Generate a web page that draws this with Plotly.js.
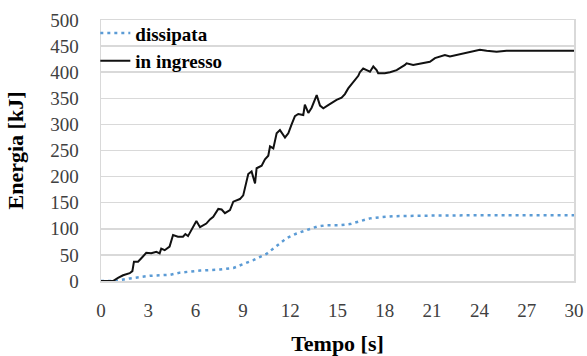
<!DOCTYPE html>
<html>
<head>
<meta charset="utf-8">
<script src="https://cdn.plot.ly/plotly-3.0.1.min.js"></script>
<style>
  html, body { margin: 0; padding: 0; background: #fff; }
  #chart { width: 587px; height: 356px; }
  #chart text { font-family: 'Liberation Serif' !important; }
</style>
</head>
<body>
<div id="chart"></div>
<script>
// Energia in ingresso: tempo [s] e valori [kJ]
const tIngresso = [0, 0.76, 1.08, 1.4, 1.82, 1.99, 2.09, 2.35, 2.66, 2.87, 3.19, 3.51, 3.72, 3.82, 4.04, 4.35,
  4.57, 4.88, 5.2, 5.35, 5.52, 5.77, 6.05, 6.28, 6.68, 6.91, 7.12, 7.44, 7.65, 7.86, 8.18, 8.39,
  8.81, 9.02, 9.24, 9.34, 9.55, 9.77, 9.87, 10.19, 10.4, 10.61, 10.72, 10.93, 11.14, 11.35, 11.67, 11.88,
  12.09, 12.3, 12.51, 12.83, 12.93, 13.15, 13.36, 13.68, 13.89, 14.1, 14.41, 14.73, 14.94, 15.26, 15.47, 15.68,
  16.0, 16.32, 16.42, 16.63, 16.85, 17.06, 17.27, 17.48, 17.58, 18.0, 18.33, 18.75, 19.28, 19.38, 19.8, 20.33,
  20.86, 21.18, 21.5, 21.81, 22.13, 22.55, 22.97, 23.4, 23.82, 24.03, 24.46, 25.09, 25.72, 26.78, 28.0, 30];
const eIngresso = [0, 0, 6, 11, 15, 19, 37, 37, 47, 54, 53, 56, 53, 62, 59, 66,
  88, 85, 85, 90, 86, 101, 115, 103, 110, 118, 123, 138, 137, 130, 136, 152,
  157, 164, 190, 205, 210, 187, 216, 221, 233, 240, 258, 254, 283, 289, 275, 283,
  300, 316, 320, 318, 338, 322, 332, 356, 336, 331, 337, 344, 347, 351, 358, 369,
  382, 393, 400, 407, 404, 401, 411, 404, 398, 398, 400, 404, 414, 417, 414, 417,
  420, 427, 430, 433, 430, 433, 436, 438, 441, 443, 441, 439, 441, 441, 441, 441];

// Energia dissipata
const tDissipata = [0, 0.9, 1.84, 3.1, 4.4, 5.0, 6.28, 7.55, 8.4, 8.81, 9.66, 10.5, 11.14, 11.77,
  12.41, 13.04, 13.68, 14.31, 15.16, 15.79, 16.42, 17.06, 17.7, 18.5, 20, 24, 30];
const eDissipata = [0, 0, 5, 10, 12, 16, 20, 22, 25, 30, 40, 52, 68, 82,
  91, 98, 104, 107, 107, 109, 114, 120, 122, 124, 125, 126, 126];

const xTicks = [0, 3, 6, 9, 12, 15, 18, 21, 24, 27, 30];
const yTicks = [0, 50, 100, 150, 200, 250, 300, 350, 400, 450, 500];

const fam = 'Liberation Serif';
const gridGrey = '#d9d9d9';

const traces = [
  {
    x: tDissipata, y: eDissipata, name: 'dissipata', type: 'scatter', mode: 'lines',
    line: { color: '#5b9bd5', width: 2.5, dash: '3px,4px' }, legendgroup: 'a'
  },
  {
    x: tIngresso, y: eIngresso, name: 'in ingresso', type: 'scatter', mode: 'lines',
    line: { color: '#111111', width: 2 }, legendgroup: 'b'
  }
];

const layout = {
  width: 587, height: 356,
  margin: { l: 101, r: 13, t: 20, b: 75 },
  paper_bgcolor: '#ffffff', plot_bgcolor: '#ffffff',
  font: { family: fam, size: 19 },
  showlegend: true,
  legend: {
    x: -0.012, y: 1.022, xanchor: 'left', yanchor: 'top',
    bgcolor: 'rgba(0,0,0,0)', borderwidth: 0,
    font: { family: fam, size: 19, color: '#000', weight: 'bold' },
    traceorder: 'grouped', tracegroupgap: 0
  },
  xaxis: {
    range: [0, 30], tickvals: xTicks, ticktext: xTicks.map(String),
    showgrid: false, zeroline: false,
    showline: true, linecolor: gridGrey, linewidth: 1.5, mirror: true,
    ticks: '', ticklabelstandoff: 12,
    tickfont: { family: fam, size: 19, color: '#404040' },
    title: { text: 'Tempo [s]', font: { family: fam, size: 22, color: '#000', weight: 'bold' }, standoff: 19 }
  },
  yaxis: {
    range: [0, 500], tickvals: yTicks, ticktext: yTicks.map(String),
    showgrid: true, gridcolor: gridGrey, gridwidth: 1.5, zeroline: false,
    showline: true, linecolor: gridGrey, linewidth: 1.5, mirror: true,
    ticks: '', ticklabelstandoff: 17,
    tickfont: { family: fam, size: 19, color: '#404040' },
    title: { text: 'Energia [kJ]', font: { family: fam, size: 22, color: '#000', weight: 'bold' }, standoff: 20 }
  }
};

Plotly.newPlot('chart', traces, layout, { staticPlot: true }).then(gd => {
  // mark the chart as drawn once fonts are settled
  return document.fonts.ready.then(() => gd.setAttribute('data-drawn', '1'));
});
</script>
</body>
</html>
